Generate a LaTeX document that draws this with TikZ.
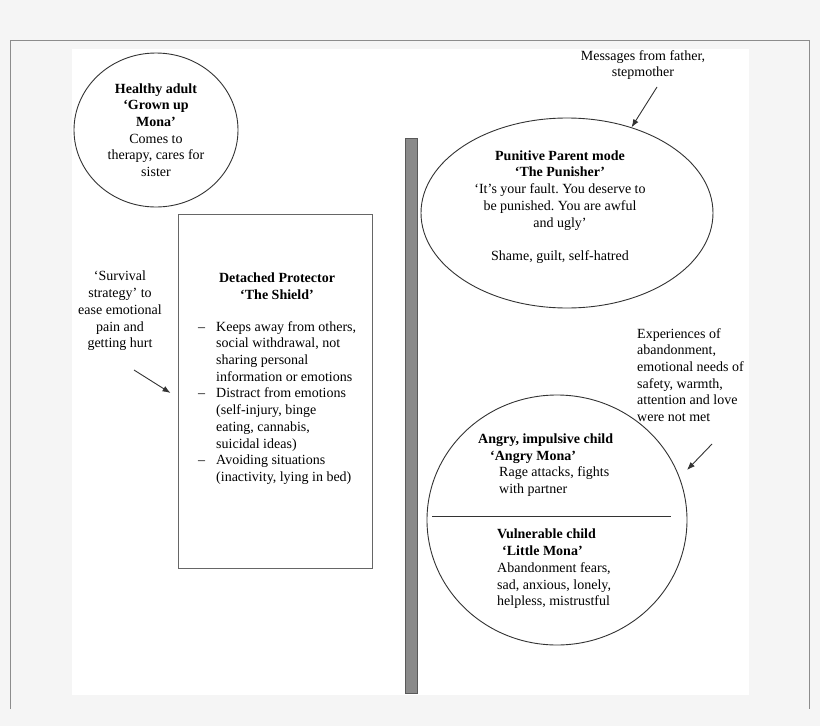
\documentclass[tikz,border=0pt]{standalone}
\usepackage{fontspec}
\setmainfont{Liberation Serif}
\usetikzlibrary{arrows.meta,shapes.geometric}

\definecolor{pagegray}{HTML}{F5F5F5}
\definecolor{framegray}{HTML}{8C8C8C}
\definecolor{bargray}{HTML}{8A8A8A}
\definecolor{inkgray}{HTML}{333333}
\frenchspacing

\begin{document}
\begin{tikzpicture}[x=1pt,y=-1pt,
  every node/.style={font=\fontsize{14}{16.7}\selectfont,inner sep=0pt},
  modeshape/.style={draw=inkgray,line width=0.9pt,ellipse},
  modeline/.style={draw=inkgray,line width=0.9pt},
  arr/.style={inkgray,line width=0.9pt,-{Latex[length=8pt,width=6pt]}}]
  \useasboundingbox (0,0) rectangle (820,726);
  \fill[pagegray] (0,0) rectangle (820,726);
  \draw[framegray,line width=1pt] (10,709) -- (10,40.5) -- (809,40.5) -- (809,709);
  \fill[white] (72,49) rectangle (749,695);
  % divider bar
  \draw[draw=gray!70!black,fill=bargray,line width=0.8pt] (405,138) rectangle (417,693);

  % healthy adult
  \node[modeshape,minimum width=164,minimum height=154] (healthy) at (156,130) {};
  \node[align=center] (healthytext) at (156,130)
    {\textbf{Healthy adult}\\\textbf{‘Grown up}\\\textbf{Mona’}\\Comes to\\therapy, cares for\\sister};

  % detached protector
  \node[draw=gray!80!black,line width=1pt,minimum width=194,minimum height=354] (shield) at (275,391) {};
  \node[align=center] (shieldtitle) at (277,286)
    {\textbf{Detached Protector}\\\textbf{‘The Shield’}};
  \node[anchor=west] (shieldlist) at (198,403)
    {\begin{tabular}{@{}l@{\hspace{11pt}}l@{}}
     – & Keeps away from others,\\
       & social withdrawal, not\\
       & sharing personal\\
       & information or emotions\\
     – & Distract from emotions\\
       & (self-injury, binge\\
       & eating, cannabis,\\
       & suicidal ideas)\\
     – & Avoiding situations\\
       & (inactivity, lying in bed)
     \end{tabular}};
  \node[align=center] (survival) at (120,311)
    {‘Survival\\strategy’ to\\ease emotional\\pain and\\getting hurt};
  \coordinate (survivaltail) at (134,370);
  \draw[arr] (survivaltail) -- ([shift={(-7,2)}]shield.west);

  % punitive parent
  \node[modeshape,minimum width=292,minimum height=190] (punisher) at (567,213) {};
  \node[align=center] (punishertext) at (560,207)
    {\textbf{Punitive Parent mode}\\\textbf{‘The Punisher’}\\‘It’s your fault. You deserve to\\be punished. You are awful\\and ugly’\\[16.7pt]Shame, guilt, self-hatred};
  \node[align=center] (messages) at (643,65)
    {Messages from father,\\stepmother};
  \coordinate (messagestail) at (657,87);
  \draw[arr] (messagestail) -- (punisher.53);

  % child modes
  \node[modeshape,minimum width=260,minimum height=250] (child) at (557,520) {};
  \draw[modeline] (432,516) -- (671,516);
  \node[align=left,anchor=west] (angry) at (478,465)
    {\textbf{Angry, impulsive child}\\\hspace*{12pt}\textbf{‘Angry Mona’}\\\hspace*{21pt}Rage attacks, fights\\\hspace*{21pt}with partner};
  \node[align=left,anchor=west] (vulnerable) at (497,569)
    {\textbf{Vulnerable child}\\\hspace*{5pt}\textbf{‘Little Mona’}\\Abandonment fears,\\sad, anxious, lonely,\\helpless, mistrustful};
  \node[align=left,anchor=west] (experiences) at (637,375)
    {Experiences of\\abandonment,\\emotional needs of\\safety, warmth,\\attention and love\\were not met};
  \coordinate (experiencestail) at (712,444);
  \coordinate (experiencestip) at (687,470);
  \draw[arr] (experiencestail) -- (experiencestip);
\end{tikzpicture}
\end{document}
